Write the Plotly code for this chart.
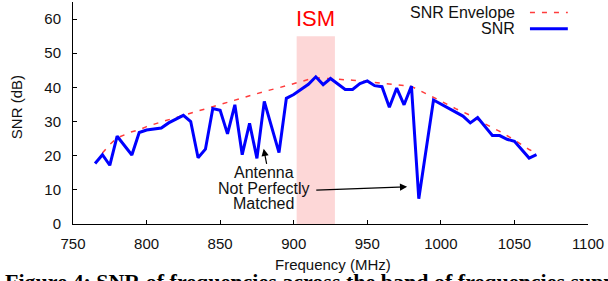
import plotly.graph_objects as go

# ---- data ----
snr_freq = [765, 770, 775, 780, 790, 795, 800, 810, 815, 825, 830, 835, 840, 845, 850,
            855, 860, 865, 870, 875, 880, 890, 895, 900, 910, 915, 920, 925, 935, 940,
            945, 950, 955, 960, 965, 970, 975, 980, 985, 995, 1015, 1020, 1025, 1035,
            1040, 1045, 1050, 1060, 1065]
snr_db = [17.7, 20.3, 17.2, 25.7, 20.2, 26.8, 27.5, 28.1, 29.6, 31.8, 30.0, 19.4, 21.9, 33.8, 33.3,
          26.4, 34.9, 20.3, 29.5, 19.2, 35.9, 20.9, 36.8, 37.9, 40.9, 43.1, 40.8, 42.6, 39.4, 39.4,
          41.1, 41.9, 40.5, 40.2, 34.2, 39.8, 34.9, 40.4, 7.4, 36.3, 31.6, 29.6, 31.2, 25.9,
          25.9, 24.8, 24.2, 19.3, 20.3]

env_freq = [770, 775, 780, 785, 790, 795, 800, 810, 820, 830, 840, 850, 860, 870, 880, 890,
            900, 910, 915, 920, 930, 940, 950, 960, 970, 980, 985, 990, 995, 1000, 1010,
            1020, 1030, 1040, 1050, 1060, 1065]
env_db = [20.8, 23.3, 25.2, 26.2, 27.0, 27.6, 28.5, 29.9, 31.2, 32.3, 33.6, 35.0, 36.3, 37.6, 38.8, 39.9,
          41.2, 42.3, 42.8, 42.7, 42.4, 42.1, 41.7, 41.3, 40.8, 40.3, 39.2, 38.2, 37.0, 36.0, 33.8,
          31.8, 29.3, 27.1, 24.6, 21.8, 20.8]

ism_band = [902, 928]
ism_top = 55

x_ticks = [750, 800, 850, 900, 950, 1000, 1050, 1100]
y_ticks = [0, 10, 20, 30, 40, 50, 60]

FONT = "Liberation Sans, Arial, sans-serif"
TXT = "#111"

fig = go.Figure()

fig.add_shape(type="rect", xref="x", yref="y", x0=ism_band[0], x1=ism_band[1], y0=0, y1=ism_top,
              fillcolor="#fdd7d7", line=dict(width=0), layer="below")

fig.add_trace(go.Scatter(x=env_freq, y=env_db, mode="lines", name="SNR Envelope",
                         line=dict(color="rgb(255,60,60)", width=1.5, dash="5px,7px"),
                         showlegend=False))
fig.add_trace(go.Scatter(x=snr_freq, y=snr_db, mode="lines", name="SNR",
                         line=dict(color="#0000ff", width=3), showlegend=False))

# ISM label
fig.add_annotation(x=sum(ism_band) / 2, y=1.0, xref="x", yref="paper", text="ISM",
                   showarrow=False, font=dict(family=FONT, size=22, color="#ff0000"),
                   yanchor="middle", yshift=-16)

# custom legend (text left of sample)
leg = [("SNR Envelope", 0.953, dict(color="rgb(255,60,60)", width=1.5, dash="5px,7px")),
       ("SNR", 0.879, dict(color="#0000ff", width=3))]
for label, yy, ln in leg:
    fig.add_annotation(x=0.862, y=yy, xref="paper", yref="paper", text=label, showarrow=False,
                       xanchor="right", yanchor="middle", font=dict(family=FONT, size=16, color=TXT))
    fig.add_shape(type="line", xref="paper", yref="paper", x0=0.8873, x1=0.9608, y0=yy, y1=yy, line=ln)

# "Antenna Not Perfectly Matched" note
for txt, yy in [("Antenna", 15.0), ("Not Perfectly", 10.4), ("Matched", 5.9)]:
    fig.add_annotation(x=879.5, y=yy, xref="x", yref="y", text=txt, showarrow=False,
                       font=dict(family=FONT, size=16, color=TXT))
fig.add_annotation(x=879.6, y=22.0, ax=881.8, ay=17.2, xref="x", yref="y", axref="x", ayref="y",
                   text="", showarrow=True, arrowhead=2, arrowsize=1.2, arrowwidth=1.2, arrowcolor="black")
fig.add_annotation(x=977.1, y=10.9, ax=914.3, ay=9.9, xref="x", yref="y", axref="x", ayref="y",
                   text="", showarrow=True, arrowhead=2, arrowsize=1.2, arrowwidth=1.2, arrowcolor="black")

# axis titles
fig.add_annotation(x=0.505, y=-0.182, xref="paper", yref="paper", text="Frequency (MHz)",
                   showarrow=False, xanchor="center", yanchor="middle",
                   font=dict(family=FONT, size=15, color=TXT))
fig.add_annotation(x=-0.1097, y=0.524, xref="paper", yref="paper", text="SNR (dB)", textangle=-90,
                   showarrow=False, xanchor="center", yanchor="middle",
                   font=dict(family=FONT, size=15, color=TXT))

# clipped caption below the figure
fig.add_annotation(x=-0.135, y=-0.195, xref="paper", yref="paper", xanchor="left", yanchor="top",
                   text="<b>Figure 4: SNR of frequencies across the band of frequencies supported</b>",
                   showarrow=False,
                   font=dict(family="Liberation Serif, Times New Roman, serif", size=22, color="black"))

axis_common = dict(showline=True, linecolor="black", linewidth=1, ticks="inside", ticklen=4,
                   tickcolor="black", showgrid=False, zeroline=False, mirror=False, automargin=False,
                   tickfont=dict(family=FONT, size=15, color=TXT))

fig.update_xaxes(range=[750, 1100], tickvals=x_ticks, ticklabelstandoff=6, **axis_common)
fig.update_yaxes(range=[0, 65], tickvals=y_ticks, ticklabelstandoff=8, **axis_common)

fig.update_layout(width=608, height=281, margin=dict(l=73, r=20, t=2, b=57),
                  plot_bgcolor="white", paper_bgcolor="white", showlegend=False)

fig.write_html("out.html", config={"displayModeBar": False},
               post_script="document.body.style.margin='0';document.body.style.padding='0';")
